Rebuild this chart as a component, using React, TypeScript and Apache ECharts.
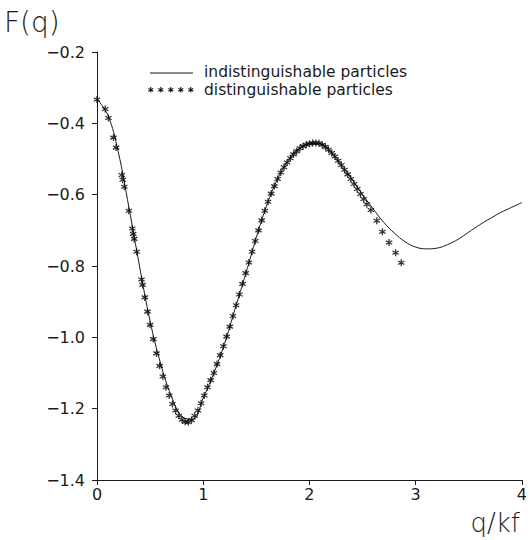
import React, { useEffect, useRef } from "react";
import * as echarts from "echarts";

// Solid curve: indistinguishable particles, F(q) sampled every 0.1 in q/kf
const qSolid = [
  0.0, 0.1, 0.2, 0.3, 0.4, 0.5, 0.6, 0.7, 0.8, 0.9,
  1.0, 1.1, 1.2, 1.3, 1.4, 1.5, 1.6, 1.7, 1.8, 1.9,
  2.0, 2.1, 2.2, 2.3, 2.4, 2.5, 2.6, 2.7, 2.8, 2.9,
  3.0, 3.1, 3.2, 3.3, 3.4, 3.5, 3.6, 3.7, 3.8, 3.9, 4.0,
];
const fSolid = [
  -0.333, -0.375, -0.48, -0.635, -0.8, -0.955, -1.075, -1.165, -1.222, -1.23,
  -1.17, -1.1, -1.018, -0.92, -0.822, -0.72, -0.628, -0.556, -0.505, -0.472,
  -0.457, -0.457, -0.48, -0.518, -0.557, -0.6, -0.64, -0.678, -0.708, -0.732,
  -0.747, -0.752, -0.75, -0.74, -0.725, -0.705, -0.685, -0.667, -0.65, -0.636, -0.622,
];

// Asterisks: distinguishable particles
const qStars = [
  0.0, 0.077, 0.108, 0.155, 0.18, 0.233, 0.242, 0.257, 0.3, 0.332,
  0.341, 0.35, 0.373, 0.419, 0.429, 0.45, 0.475, 0.5, 0.53, 0.56,
  0.59, 0.62, 0.65, 0.68, 0.71, 0.74, 0.77, 0.8, 0.83, 0.86,
  0.89, 0.92, 0.95, 0.98, 1.01, 1.04, 1.07, 1.1, 1.13, 1.16,
  1.19, 1.22, 1.25, 1.28, 1.31, 1.34, 1.37, 1.4, 1.43, 1.46,
  1.49, 1.52, 1.55, 1.58, 1.61, 1.64, 1.67, 1.7, 1.73, 1.76,
  1.79, 1.82, 1.85, 1.88, 1.91, 1.94, 1.97, 2.0, 2.03, 2.06,
  2.09, 2.12, 2.15, 2.18, 2.21, 2.24, 2.27, 2.3, 2.33, 2.36,
  2.39, 2.42, 2.45, 2.48, 2.51, 2.54, 2.578, 2.634, 2.687, 2.749,
  2.811, 2.864,
];
const fStars = [
  -0.333, -0.36, -0.385, -0.44, -0.468, -0.545, -0.558, -0.578, -0.645, -0.695,
  -0.71, -0.724, -0.76, -0.838, -0.853, -0.888, -0.928, -0.965, -1.005, -1.045,
  -1.08, -1.11, -1.14, -1.163, -1.187, -1.205, -1.22, -1.231, -1.237, -1.238,
  -1.232, -1.22, -1.205, -1.185, -1.163, -1.14, -1.12, -1.1, -1.075, -1.05,
  -1.025, -0.998, -0.97, -0.94, -0.91, -0.88, -0.85, -0.82, -0.79, -0.76,
  -0.73, -0.7, -0.672, -0.645, -0.62, -0.597, -0.576, -0.556, -0.538, -0.523,
  -0.51, -0.498, -0.487, -0.478, -0.47, -0.464, -0.46, -0.457, -0.455, -0.455,
  -0.456, -0.46, -0.466, -0.474, -0.483, -0.493, -0.505, -0.517, -0.53, -0.543,
  -0.556, -0.57, -0.584, -0.598, -0.612, -0.627, -0.643, -0.673, -0.704, -0.734,
  -0.763, -0.791,
];

const yTicks = [-1.4, -1.2, -1.0, -0.8, -0.6, -0.4, -0.2];
const xTicks = [0, 1, 2, 3, 4];

const seriesNames = ["indistinguishable particles", "distinguishable particles"];

const FONT = "DejaVu Sans";
const INK = "#1a1a1a";

// six-armed asterisk with heavy arms, drawn in a 20x20 box
const ASTERISK_D =
  "M8.2,20 L11.8,20 L11.8,0 L8.2,0 Z " +
  "M17.76,16.56 L19.56,13.44 L2.24,3.44 L0.44,6.56 Z " +
  "M0.44,13.44 L2.24,16.56 L19.56,6.56 L17.76,3.44 Z";

let shapeRegistered = false;

export default function App() {
  const ref = useRef<HTMLDivElement>(null);

  useEffect(() => {
    if (!ref.current) return;
    if (!shapeRegistered) {
      echarts.graphic.registerShape("asterisk", echarts.graphic.extendPath(ASTERISK_D, {}) as any);
      shapeRegistered = true;
    }
    const chart = echarts.init(ref.current, null, { renderer: "svg" });

    const minus = (v: number) => (v < 0 ? "\u2212" + Math.abs(v).toFixed(1) : v.toFixed(1));

    const legendStars = [0, 1, 2, 3, 4].map((i) => ({
      type: "asterisk",
      x: 148 + i * 10,
      y: 87,
      scaleX: 0.28,
      scaleY: 0.28,
      style: { fill: "#000" },
    }));

    chart.setOption({
      animation: false,
      backgroundColor: "#fff",
      grid: { left: 97, right: 4, top: 52, bottom: 60, containLabel: false },
      xAxis: {
        type: "value",
        min: 0,
        max: 4,
        interval: 1,
        axisLine: { show: true, onZero: false, lineStyle: { color: INK, width: 1 } },
        axisTick: { show: true, inside: false, length: 5, lineStyle: { color: INK } },
        axisLabel: {
          color: INK,
          fontFamily: FONT,
          fontSize: 16,
          margin: 6,
          formatter: (v: number) => (xTicks.includes(v) ? String(v) : ""),
        },
        splitLine: { show: false },
      },
      yAxis: {
        type: "value",
        min: yTicks[0],
        max: yTicks[yTicks.length - 1],
        interval: 0.2,
        axisLine: { show: true, onZero: false, lineStyle: { color: INK, width: 1 } },
        axisTick: { show: true, inside: false, length: 5, lineStyle: { color: INK } },
        axisLabel: {
          color: INK,
          fontFamily: FONT,
          fontSize: 16,
          margin: 12,
          formatter: (v: number) => minus(v),
        },
        splitLine: { show: false },
      },
      series: [
        {
          name: seriesNames[0],
          type: "line",
          data: qSolid.map((q, i) => [q, fSolid[i]]),
          smooth: 0.4,
          showSymbol: false,
          lineStyle: { color: INK, width: 1 },
          z: 2,
        },
        {
          name: seriesNames[1],
          type: "scatter",
          data: qStars.map((q, i) => [q, fStars[i]]),
          symbol: "path://" + ASTERISK_D,
          symbolSize: 7,
          itemStyle: { color: "#000" },
          z: 3,
        },
      ],
      graphic: [
        {
          type: "text",
          left: 4,
          top: 8,
          style: { text: "F(q)", font: `300 28px ${FONT}`, fill: INK },
        },
        {
          type: "text",
          right: 10,
          bottom: 4,
          style: { text: "q/kf", font: `300 26px ${FONT}`, fill: INK },
        },
        {
          type: "line",
          shape: { x1: 150, y1: 73, x2: 193, y2: 73 },
          style: { stroke: INK, lineWidth: 1 },
        },
        ...legendStars,
        {
          type: "text",
          x: 204,
          y: 72,
          style: {
            text: seriesNames[0],
            font: `15.5px ${FONT}`,
            fill: INK,
            verticalAlign: "middle",
          },
        },
        {
          type: "text",
          x: 204,
          y: 90,
          style: {
            text: seriesNames[1],
            font: `15.5px ${FONT}`,
            fill: INK,
            verticalAlign: "middle",
          },
        },
      ],
    });

    return () => chart.dispose();
  }, []);

  return (
    <div
      ref={ref}
      style={{ position: "fixed", left: 0, top: 0, width: 530, height: 540 }}
    />
  );
}
